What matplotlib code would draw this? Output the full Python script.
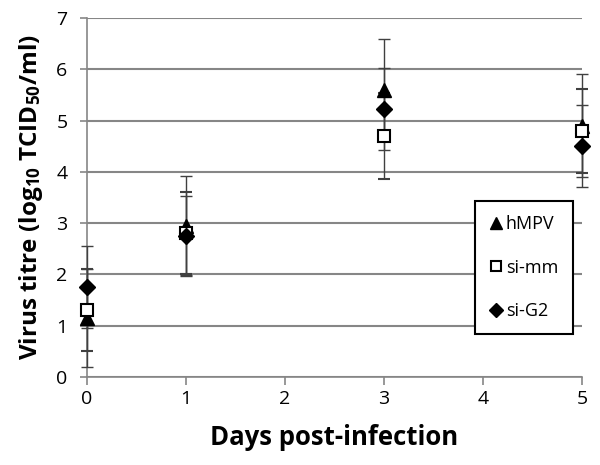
import matplotlib
matplotlib.use('Agg')
import matplotlib.pyplot as plt
from matplotlib.lines import Line2D

# days post-infection
days = [0, 1, 3, 5]

# virus titre (log10 TCID50/ml)
hmpv = [1.15, 2.95, 5.6, 4.9]
hmpv_err = [0.95, 0.97, 1.0, 1.0]
si_mm = [1.3, 2.8, 4.7, 4.8]
si_mm_err = [0.8, 0.8, 0.83, 0.82]
si_g2 = [1.75, 2.75, 5.22, 4.5]
si_g2_err = [0.8, 0.78, 0.8, 0.8]

xticks = [0, 1, 2, 3, 4, 5]
yticks = [0, 1, 2, 3, 4, 5, 6, 7]

plt.rcParams['font.family'] = ['Open Sans', 'DejaVu Sans']
plt.rcParams['mathtext.fontset'] = 'custom'
plt.rcParams['mathtext.bf'] = 'Open Sans:bold'
plt.rcParams['mathtext.default'] = 'bf'

axis_grey = '#868686'

fig = plt.figure(figsize=(6, 4.65), dpi=100)
ax = fig.add_axes([87/600, 1-377/465, (582-87)/600, (377-18)/465])

ebar_kw = dict(ecolor='#404040', elinewidth=1, capsize=4.5, capthick=1, linestyle='none', zorder=3)
styles = {
    'hMPV': dict(marker='^', markersize=10, color='black'),
    'si-mm': dict(marker='s', markersize=9, markerfacecolor='white', markeredgecolor='black',
                  markeredgewidth=1.5, color='black'),
    'si-G2': dict(marker='D', markersize=8, color='black'),
}
for name, vals, errs in [('hMPV', hmpv, hmpv_err), ('si-mm', si_mm, si_mm_err), ('si-G2', si_g2, si_g2_err)]:
    cont = ax.errorbar(days, vals, yerr=errs, **styles[name], **ebar_kw)
    cont[0].set_clip_on(False)
    for c in cont[1]:
        c.set_clip_on(False)
    for c in cont[2]:
        c.set_clip_on(False)

ax.set_xlim(0, 5)
ax.set_ylim(0, 7)
ax.set_xticks(xticks)
ax.set_yticks(yticks)
ax.yaxis.grid(True, color=axis_grey, linewidth=1.5)
ax.set_axisbelow(True)
for s in ['top', 'right']:
    ax.spines[s].set_visible(False)
for s in ['left', 'bottom']:
    ax.spines[s].set_color(axis_grey)
    ax.spines[s].set_linewidth(1.2)
ax.tick_params(axis='x', colors=axis_grey, length=6, width=1.2, labelcolor='black', labelsize=14, pad=3)
ax.tick_params(axis='y', colors=axis_grey, length=5, width=1.2, labelcolor='black', labelsize=14, pad=9)

ax.set_xlabel('Days post-infection', fontsize=18.5, fontweight='bold', labelpad=12)
ax.set_ylabel(r'Virus titre (log$_{10}$ TCID$_{50}$/ml)', fontsize=17.5, fontweight='bold', labelpad=8)

handles = []
for name in ['hMPV', 'si-mm', 'si-G2']:
    st = dict(styles[name])
    st['markersize'] = st['markersize'] * 0.85
    handles.append(Line2D([], [], linestyle='none', label=name, **st))
leg = ax.legend(handles=handles, loc='upper left', bbox_to_anchor=((475-87)/495, (377-201)/359),
                frameon=True, fancybox=False, labelspacing=1.4, handlelength=0.7, handletextpad=0.2,
                borderpad=0.8, fontsize=13, borderaxespad=0)
leg.get_frame().set_edgecolor('black')
leg.get_frame().set_linewidth(1.5)
leg.get_frame().set_alpha(1)

fig.savefig('out.png', dpi=100)
